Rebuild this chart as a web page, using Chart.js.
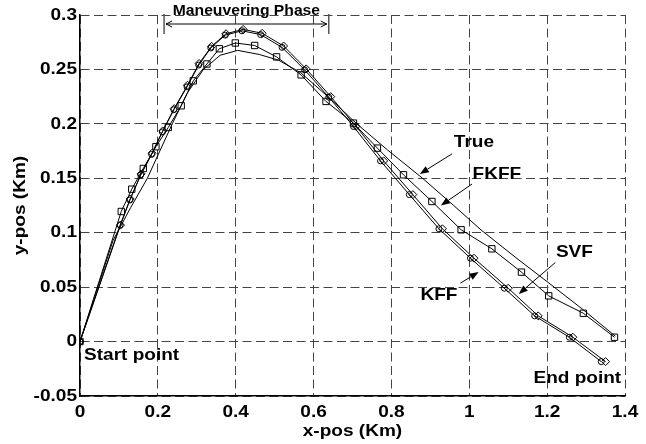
<!DOCTYPE html>
<html>
<head>
<meta charset="utf-8">
<script src="https://cdn.jsdelivr.net/npm/chart.js@4.4.0/dist/chart.umd.min.js"></script>
<style>
  html, body { margin: 0; padding: 0; background: #fff; }
  canvas { display: block; }
</style>
</head>
<body>
<canvas id="trajChart" width="646" height="444"></canvas>
<script>
// target trajectory and filter estimates, positions in km
const trueX = [0, 0.085, 0.13, 0.173, 0.205, 0.237, 0.275, 0.317, 0.36, 0.405, 0.46, 0.51, 0.567, 0.64, 0.711, 0.79, 0.88, 0.96, 1.03, 1.12, 1.2, 1.29, 1.375];
const trueY = [0, 0.093, 0.123, 0.150, 0.175, 0.2, 0.228, 0.25, 0.263, 0.2675, 0.2638, 0.2585, 0.247, 0.224, 0.2, 0.176, 0.15, 0.125, 0.1026, 0.077, 0.055, 0.03, 0.005];

const fkffX = [0, 0.106, 0.133, 0.1625, 0.195, 0.2267, 0.26, 0.291, 0.326, 0.358, 0.399, 0.4486, 0.505, 0.568, 0.632, 0.7025, 0.764, 0.831, 0.904, 0.979, 1.058, 1.134, 1.204, 1.293, 1.373];
const fkffY = [0, 0.1195, 0.140, 0.159, 0.179, 0.1967, 0.2166, 0.2395, 0.255, 0.269, 0.2743, 0.272, 0.2615, 0.245, 0.2206, 0.2007, 0.1777, 0.1532, 0.1287, 0.1027, 0.0852, 0.0638, 0.042, 0.026, 0.004];

const svfX = [0, 0.104, 0.129, 0.157, 0.185, 0.2125, 0.242, 0.276, 0.306, 0.338, 0.375, 0.419, 0.468, 0.523, 0.581, 0.644, 0.709, 0.780, 0.855, 0.931, 1.012, 1.100, 1.177, 1.266, 1.350];
const svfY = [0, 0.107, 0.131, 0.154, 0.173, 0.1935, 0.214, 0.2355, 0.2555, 0.2712, 0.2828, 0.2868, 0.2832, 0.2715, 0.2505, 0.225, 0.1978, 0.166, 0.135, 0.1036, 0.0766, 0.049, 0.0236, 0.004, -0.0184];

const kffX = [0, 0.103, 0.128, 0.156, 0.184, 0.2115, 0.241, 0.275, 0.305, 0.336, 0.373, 0.416, 0.464, 0.519, 0.577, 0.639, 0.7025, 0.772, 0.846, 0.922, 1.003, 1.090, 1.168, 1.257, 1.339];
const kffY = [0, 0.107, 0.130, 0.153, 0.172, 0.1925, 0.213, 0.234, 0.254, 0.2697, 0.2815, 0.2855, 0.282, 0.2703, 0.2497, 0.2246, 0.1976, 0.166, 0.135, 0.1036, 0.0766, 0.049, 0.0236, 0.004, -0.0184];

const xTickVals = [0, 0.2, 0.4, 0.6, 0.8, 1, 1.2, 1.4];
const xTickLabels = ['0', '0.2', '0.4', '0.6', '0.8', '1', '1.2', '1.4'];
const yTickVals = [-0.05, 0, 0.05, 0.1, 0.15, 0.2, 0.25, 0.3];
const yTickLabels = ['-0.05', '0', '0.05', '0.1', '0.15', '0.2', '0.25', '0.3'];

// maneuvering phase window (km along x)
const phaseStart = 0.216;
const phaseEnd = 0.639;

// curve labels: text, text centre, arrow tail, arrow tip (data units)
const curveNotes = [
  { text: 'True', at: [1.012, 0.1826], from: [0.956, 0.1725], to: [0.873, 0.154] },
  { text: 'FKFF', at: [1.071, 0.154], from: [1.007, 0.1447], to: [0.927, 0.125] },
  { text: 'SVF', at: [1.270, 0.0823], from: [1.221, 0.0726], to: [1.127, 0.0438] },
  { text: 'KFF', at: [0.922, 0.0422], from: [0.977, 0.0537], to: [1.024, 0.0638] }
];

const pts = (xs, ys) => xs.map((x, i) => ({ x: x, y: ys[i] }));

const FONT = 'bold 17px "Liberation Sans", Arial, sans-serif';
const SMALL_FONT = 'bold 14px "Liberation Sans", Arial, sans-serif';
const SX = 1.12; // glyphs are a bit wide in this figure

function wideText(ctx, str, x, y, align, font) {
  ctx.save();
  ctx.font = font;
  ctx.textAlign = align;
  ctx.textBaseline = 'middle';
  ctx.translate(x, y);
  ctx.scale(SX, 1);
  ctx.fillText(str, 0, 0);
  ctx.restore();
}

function arrow(ctx, x1, y1, x2, y2) {
  const a = Math.atan2(y2 - y1, x2 - x1);
  const len = 9, half = 3.5;
  ctx.beginPath();
  ctx.moveTo(x1, y1);
  ctx.lineTo(x2 - Math.cos(a) * len, y2 - Math.sin(a) * len);
  ctx.stroke();
  ctx.beginPath();
  ctx.moveTo(x2, y2);
  ctx.lineTo(x2 - Math.cos(a) * len - Math.sin(a) * half, y2 - Math.sin(a) * len + Math.cos(a) * half);
  ctx.lineTo(x2 - Math.cos(a) * len + Math.sin(a) * half, y2 - Math.sin(a) * len - Math.cos(a) * half);
  ctx.closePath();
  ctx.fill();
}

const paperText = {
  id: 'paperText',
  afterDraw(chart) {
    const ctx = chart.ctx;
    const xs = chart.scales.x, ys = chart.scales.y;
    const area = chart.chartArea;
    const px = v => xs.getPixelForValue(v);
    const py = v => ys.getPixelForValue(v);
    ctx.save();
    ctx.fillStyle = '#000';
    ctx.strokeStyle = '#000';
    ctx.lineWidth = 1;

    xTickVals.forEach((v, i) => wideText(ctx, xTickLabels[i], px(v), area.bottom + 16, 'center', FONT));
    yTickVals.forEach((v, i) => wideText(ctx, yTickLabels[i], area.left - 3, py(v), 'right', FONT));

    wideText(ctx, 'x-pos (Km)', (area.left + area.right) / 2, area.bottom + 35, 'center', FONT);
    ctx.save();
    ctx.translate(20, (area.top + area.bottom) / 2);
    ctx.rotate(-Math.PI / 2);
    wideText(ctx, 'y-pos (Km)', 0, 0, 'center', FONT);
    ctx.restore();

    // start / end markers
    wideText(ctx, 'Start point', px(0) + 4, py(0) + 14, 'left', FONT);
    wideText(ctx, 'End point', px(1.2775), py(-0.034), 'center', FONT);

    curveNotes.forEach(n => {
      wideText(ctx, n.text, px(n.at[0]), py(n.at[1]), 'center', FONT);
      arrow(ctx, px(n.from[0]), py(n.from[1]), px(n.to[0]), py(n.to[1]));
    });

    // maneuvering phase bracket
    const x1 = px(phaseStart), x2 = px(phaseEnd);
    const yTop = area.top - 1, yBot = area.top + 19, yMid = area.top + 9;
    ctx.strokeStyle = '#555';
    ctx.lineWidth = 1.5;
    ctx.beginPath();
    ctx.moveTo(x1, yTop); ctx.lineTo(x1, yBot);
    ctx.moveTo(x2, yTop); ctx.lineTo(x2, yBot);
    ctx.stroke();
    ctx.strokeStyle = '#000';
    ctx.lineWidth = 1;
    ctx.beginPath();
    ctx.moveTo(x1 + 2, yMid); ctx.lineTo(x2 - 2, yMid);
    ctx.moveTo(x1 + 8, yMid - 3); ctx.lineTo(x1 + 2, yMid); ctx.lineTo(x1 + 8, yMid + 3);
    ctx.moveTo(x2 - 8, yMid - 3); ctx.lineTo(x2 - 2, yMid); ctx.lineTo(x2 - 8, yMid + 3);
    ctx.stroke();
    wideText(ctx, 'Maneuvering Phase', (x1 + x2) / 2, area.top - 4, 'center', SMALL_FONT);
    ctx.restore();
  }
};

const lineStyle = {
  showLine: true,
  borderColor: '#000',
  borderWidth: 1,
  pointBorderColor: '#000',
  pointBackgroundColor: 'rgba(0,0,0,0)',
  pointBorderWidth: 1
};

const gridOpts = { color: '#444', lineWidth: 1, drawTicks: false };
const borderOpts = { display: true, color: '#000', width: 1.5, dash: [9, 4.5] };

new Chart(document.getElementById('trajChart').getContext('2d'), {
  type: 'scatter',
  data: {
    datasets: [
      { ...lineStyle, label: 'True', data: pts(trueX, trueY), pointRadius: 0 },
      { ...lineStyle, label: 'FKFF', data: pts(fkffX, fkffY), pointStyle: 'rect', pointRadius: 4.5 },
      { ...lineStyle, label: 'SVF', data: pts(svfX, svfY), pointStyle: 'rectRot', pointRadius: 4 },
      { ...lineStyle, label: 'KFF', data: pts(kffX, kffY), pointStyle: 'circle', pointRadius: 3 }
    ]
  },
  options: {
    responsive: false,
    animation: false,
    layout: { padding: { left: 80, right: 21, top: 15, bottom: 48 } },
    plugins: { legend: { display: false }, tooltip: { enabled: false } },
    scales: {
      x: {
        type: 'linear', min: 0, max: 1.4,
        afterBuildTicks: s => { s.ticks = xTickVals.map(v => ({ value: v })); },
        ticks: { display: false },
        grid: gridOpts,
        border: borderOpts
      },
      y: {
        type: 'linear', min: -0.05, max: 0.3,
        afterBuildTicks: s => { s.ticks = yTickVals.map(v => ({ value: v })); },
        ticks: { display: false },
        grid: gridOpts,
        border: borderOpts
      }
    }
  },
  plugins: [paperText]
});
</script>
</body>
</html>
